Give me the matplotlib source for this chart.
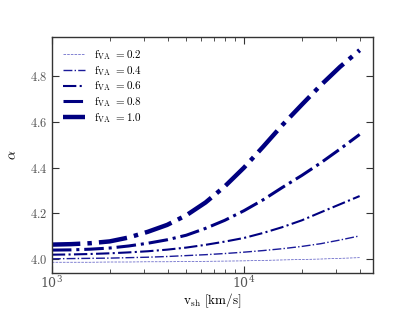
import numpy as np
import matplotlib.pyplot as plt
from matplotlib.ticker import FuncFormatter, LogLocator

plt.rcParams['mathtext.fontset'] = 'cm'
plt.rcParams['font.family'] = 'serif'
plt.rcParams['font.serif'] = ['DejaVu Serif']

# shock velocity grid [km/s]
v_sh = [1000, 1260, 1580, 2000, 2510, 3160, 3980, 5010, 6310, 7940,
        10000, 12600, 15800, 20000, 25100, 31600, 40000]

f_va = [0.2, 0.4, 0.6, 0.8, 1.0]

alpha_02 = [3.987, 3.987, 3.987, 3.988, 3.988, 3.989, 3.989, 3.990, 3.991,
            3.992, 3.993, 3.995, 3.997, 3.999, 4.001, 4.004, 4.007]
alpha_04 = [4.002, 4.003, 4.004, 4.005, 4.007, 4.009, 4.012, 4.016, 4.020,
            4.025, 4.031, 4.038, 4.046, 4.056, 4.068, 4.084, 4.102]
alpha_06 = [4.020, 4.021, 4.023, 4.026, 4.030, 4.035, 4.042, 4.051, 4.063,
            4.077, 4.093, 4.115, 4.140, 4.170, 4.205, 4.240, 4.276]
alpha_08 = [4.040, 4.041, 4.044, 4.049, 4.058, 4.070, 4.085, 4.105, 4.135,
            4.170, 4.212, 4.260, 4.313, 4.366, 4.421, 4.481, 4.545]
alpha_10 = [4.064, 4.066, 4.070, 4.078, 4.095, 4.120, 4.150, 4.192, 4.248,
            4.318, 4.400, 4.492, 4.585, 4.675, 4.760, 4.840, 4.913]

alphas = [alpha_02, alpha_04, alpha_06, alpha_08, alpha_10]
widths = [0.5, 1.0, 1.5, 2.2, 3.2]
styles = ['--', '-.', '-.', '-.', '-.']
colors = ['#5050c0', '#1a1a99', 'navy', 'navy', 'navy']

fig = plt.figure(figsize=(4.15, 3.12), dpi=100)
ax = fig.add_axes([0.125, 0.125, 0.774, 0.756])

for f, a, lw, ls, c in zip(f_va, alphas, widths, styles, colors):
    ax.plot(v_sh, a, ls=ls, lw=lw, color=c, label=r'$\mathrm{f_{VA}}$ $=%.1f$' % f)

ax.set_xscale('log')
ax.set_xlim(1000, 47000)
ax.set_ylim(3.94, 4.97)
ax.set_yticks([4.0, 4.2, 4.4, 4.6, 4.8])
ax.yaxis.set_major_formatter(FuncFormatter(lambda y, p: r'$%.1f$' % y))
ax.xaxis.set_minor_locator(LogLocator(subs=np.arange(2, 10)))

gray = '#555555'
ax.tick_params(which='both', direction='in', top=True, right=True, colors='#333333',
               labelcolor=gray, labelsize=9)
ax.tick_params(which='major', length=5, width=0.8, pad=3)
ax.tick_params(axis='x', which='major', pad=1.5)
ax.tick_params(which='minor', length=3, width=0.6)
for s in ax.spines.values():
    s.set_color('#333333')
    s.set_linewidth(1.0)

ax.set_xlabel(r'$\mathrm{v_{sh}}\ [\mathrm{km/s}]$', fontsize=9.5, labelpad=0)
ax.set_ylabel(r'$\alpha$', fontsize=10, labelpad=8)

ax.legend(loc='upper left', frameon=False, fontsize=8, handlelength=2.0,
          labelspacing=0.15, borderaxespad=0.6)

fig.savefig('out.png', dpi=100)
